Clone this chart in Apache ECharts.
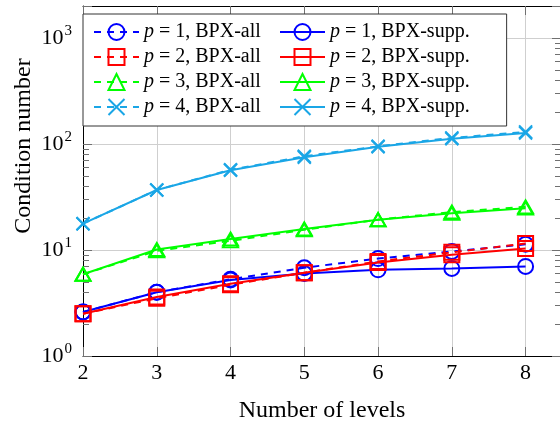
<!DOCTYPE html>
<html>
<head>
<meta charset="utf-8">
<script src="https://cdn.jsdelivr.net/npm/echarts@6/dist/echarts.min.js"></script>
<style>
  html, body { margin: 0; padding: 0; background: #ffffff; }
  #chart { width: 560px; height: 430px; }
</style>
</head>
<body>
<div id="chart"></div>
<script>
// Number of multigrid levels on the x axis
const levels = [2, 3, 4, 5, 6, 7, 8];

// Condition numbers, one array per polynomial degree and preconditioner variant
const p1All  = [2.6, 4.0, 5.3, 6.8, 8.3, 9.7, 11.3];
const p1Supp = [2.6, 4.0, 5.2, 6.0, 6.5, 6.7, 7.0];
const p2All  = [2.5, 3.5, 4.7, 6.1, 7.8, 9.5, 11.5];
const p2Supp = [2.5, 3.6, 4.8, 6.1, 7.6, 9.0, 10.3];
const p3All  = [5.9, 9.8, 12.2, 15.5, 19.3, 22.8, 25.5];
const p3Supp = [5.9, 10.1, 12.7, 15.8, 19.3, 22.2, 24.8];
const p4All  = [17.7, 36.8, 57.0, 76.5, 95.0, 114.0, 130.0];
const p4Supp = [17.7, 36.8, 56.5, 75.0, 94.0, 112.0, 127.0];

// Legend entries, in reading order (two columns)
const seriesNames = [
  'p = 1, BPX-all', 'p = 1, BPX-supp.',
  'p = 2, BPX-all', 'p = 2, BPX-supp.',
  'p = 3, BPX-all', 'p = 3, BPX-supp.',
  'p = 4, BPX-all', 'p = 4, BPX-supp.'
];
const seriesValues = [p1All, p1Supp, p2All, p2Supp, p3All, p3Supp, p4All, p4Supp];

// Axis ranges
const xMin = 2, xMax = 8.48;
const yMin = 1, yMax = 2000;

// Decade minor ticks (2..9 x 10^k) for the log axis
const minorTickValues = [];
for (let e = 0; e < 4; e++) {
  for (let m = 2; m <= 9; m++) {
    const v = m * Math.pow(10, e);
    if (v < yMax) minorTickValues.push(v);
  }
}

const SERIF = '"Liberation Serif", "DejaVu Serif", serif';
const BLUE = '#0000ff', RED = '#ff0000', GREEN = '#00ff00', SKY = '#1aa6e6';

// Marker look per degree p
const markerStyles = [
  { color: BLUE,  symbol: 'circle',   size: 15 },
  { color: RED,   symbol: 'rect',     size: 15 },
  { color: GREEN, symbol: 'triangle', size: [15, 13] },
  { color: SKY,   symbol: 'path://M0,0L10,10M10,0L0,10', size: 13 }
];

const lineSeries = seriesNames.map((name, i) => {
  const st = markerStyles[Math.floor(i / 2)];
  const dashed = i % 2 === 0;
  return {
    name: name,
    type: 'line',
    data: levels.map((lv, k) => [lv, seriesValues[i][k]]),
    symbol: st.symbol,
    symbolSize: st.size,
    showSymbol: true,
    showAllSymbol: true,
    itemStyle: { color: 'rgba(0,0,0,0)', borderColor: st.color, borderWidth: 2 },
    lineStyle: { color: st.color, width: 2, type: dashed ? [7, 6] : 'solid' },
    emphasis: { disabled: true },
    z: 3 + i
  };
});

// Small inward ticks on the left and right frame at the minor log positions
const minorTickSeries = {
  type: 'custom',
  silent: true,
  clip: false,
  z: 2,
  data: minorTickValues.map(v => [xMin, v]),
  encode: { x: 0, y: 1 },
  renderItem: function (params, api) {
    const cs = params.coordSys;
    const y = Math.round(api.coord([xMin, api.value(1)])[1]) + 0.5;
    const xl = cs.x, xr = cs.x + cs.width;
    const style = { stroke: '#707070', lineWidth: 1 };
    return {
      type: 'group',
      children: [
        { type: 'line', shape: { x1: xl, y1: y, x2: xl + 6, y2: y }, style: style },
        { type: 'line', shape: { x1: xr, y1: y, x2: xr - 6, y2: y }, style: style }
      ]
    };
  }
};

const tickStyle = { show: true, inside: true, length: 9, lineStyle: { color: '#707070', width: 1 } };
const frameLine = { show: true, lineStyle: { color: '#000000', width: 1 } };
const gridLine = { show: true, lineStyle: { color: '#cfcfcf', width: 1 } };

const option = {
  animation: false,
  backgroundColor: '#ffffff',
  grid: { left: 83, right: -1, top: 6, bottom: 74, outerBoundsMode: 'none', containLabel: false },
  legend: {
    data: seriesNames,
    left: 83,
    top: 14,
    width: 380,
    orient: 'horizontal',
    itemWidth: 45,
    itemHeight: 20,
    itemGap: 5,
    padding: [8, 37, 9, 10],
    backgroundColor: '#ffffff',
    borderColor: '#333333',
    borderWidth: 1,
    borderRadius: 0,
    selectedMode: false,
    formatter: function (name) {
      return '{i|p}{t|' + name.slice(1) + '}';
    },
    textStyle: {
      width: 130,
      lineHeight: 20,
      fontFamily: SERIF,
      fontSize: 20,
      color: '#000000',
      rich: {
        i: { fontFamily: SERIF, fontStyle: 'italic', fontSize: 20, color: '#000' },
        t: { fontFamily: SERIF, fontSize: 20, color: '#000' }
      }
    }
  },
  xAxis: [
    {
      type: 'value',
      min: xMin, max: xMax, interval: 1,
      position: 'bottom',
      name: 'Number of levels',
      nameLocation: 'middle',
      nameGap: 43,
      nameMoveOverlap: false,
      nameTextStyle: { fontFamily: SERIF, fontSize: 24, color: '#000' },
      axisLine: frameLine,
      axisTick: tickStyle,
      splitLine: gridLine,
      axisLabel: {
        margin: 6,
        fontFamily: SERIF, fontSize: 22, color: '#000',
        formatter: function (v) { return Number.isInteger(v) ? String(v) : ''; }
      }
    },
    {
      type: 'value',
      min: xMin, max: xMax, interval: 1,
      position: 'top',
      axisLine: frameLine,
      axisTick: tickStyle,
      splitLine: { show: false },
      axisLabel: { show: false }
    }
  ],
  yAxis: [
    {
      type: 'log',
      logBase: 10,
      min: yMin, max: yMax, interval: 1,
      position: 'left',
      name: 'Condition number',
      nameLocation: 'middle',
      nameGap: 47,
      nameMoveOverlap: false,
      nameRotate: 90,
      nameTextStyle: { fontFamily: SERIF, fontSize: 24, color: '#000', padding: [0, 0, 0, 70] },
      axisLine: frameLine,
      axisTick: tickStyle,
      splitLine: gridLine,
      axisLabel: {
        margin: 11,
        fontFamily: SERIF, fontSize: 22, color: '#000',
        formatter: function (v) {
          const e = Math.log10(v);
          if (Math.abs(e - Math.round(e)) > 1e-6) return '';
          return '{b|10}{s|' + Math.round(e) + '}';
        },
        rich: {
          b: { fontFamily: SERIF, fontSize: 22, color: '#000' },
          s: { fontFamily: SERIF, fontSize: 15, color: '#000', padding: [0, 0, 13, 1] }
        }
      }
    },
    {
      type: 'log',
      logBase: 10,
      min: yMin, max: yMax, interval: 1,
      position: 'right',
      axisLine: frameLine,
      axisTick: tickStyle,
      splitLine: { show: false },
      axisLabel: { show: false }
    }
  ],
  series: [minorTickSeries].concat(lineSeries)
};

const chart = echarts.init(document.getElementById('chart'), null, { renderer: 'canvas' });
chart.setOption(option);
</script>
</body>
</html>
